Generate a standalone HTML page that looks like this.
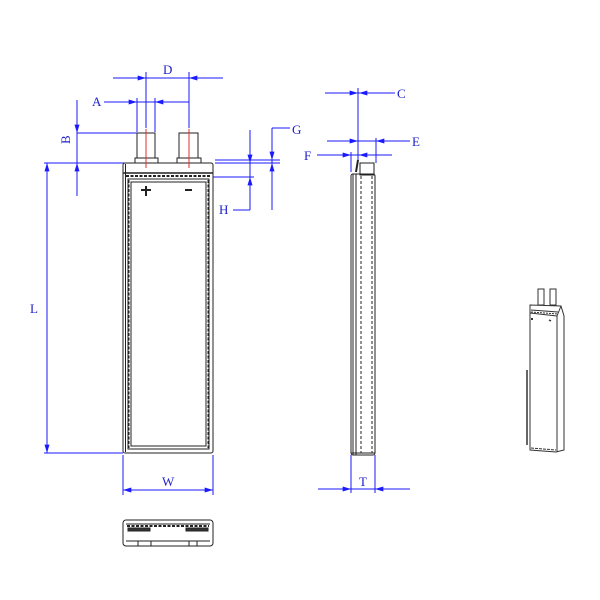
<!DOCTYPE html>
<html><head><meta charset="utf-8"><style>
html,body{margin:0;padding:0;background:#fff;width:600px;height:600px;overflow:hidden}
text{font-family:"Liberation Serif",serif;fill:#2020cc;font-size:13px}
</style></head><body>
<svg width="600" height="600" viewBox="0 0 600 600" xmlns="http://www.w3.org/2000/svg">
<defs>
<marker id="ar" viewBox="0 0 10 6" refX="10" refY="3" markerWidth="10" markerHeight="5" orient="auto-start-reverse" markerUnits="userSpaceOnUse"><path d="M0,0 L10,3 L0,6 Z" fill="#1a1aff"/></marker>
</defs>
<g stroke="#1a1aff" stroke-width="1" fill="none">
<line x1="113" y1="78" x2="223" y2="78"/>
<line x1="128" y1="78" x2="146" y2="78" marker-end="url(#ar)"/>
<line x1="207" y1="78" x2="189" y2="78" marker-end="url(#ar)"/>
<line x1="146" y1="72" x2="146" y2="128"/>
<line x1="189" y1="72" x2="189" y2="128"/>
<line x1="104" y1="102" x2="189" y2="102"/>
<line x1="120" y1="102" x2="137" y2="102" marker-end="url(#ar)"/>
<line x1="172" y1="102" x2="155" y2="102" marker-end="url(#ar)"/>
<line x1="137" y1="98" x2="137" y2="132"/>
<line x1="155" y1="98" x2="155" y2="132"/>
<line x1="77" y1="100" x2="77" y2="196"/>
<line x1="77" y1="112" x2="77" y2="133" marker-end="url(#ar)"/>
<line x1="77" y1="185" x2="77" y2="163" marker-end="url(#ar)"/>
<line x1="77" y1="133" x2="137" y2="133"/>
<line x1="44" y1="163" x2="135" y2="163"/>
<line x1="47" y1="163" x2="47" y2="453" marker-start="url(#ar)" marker-end="url(#ar)"/>
<line x1="44" y1="453" x2="123" y2="453"/>
<line x1="123" y1="455" x2="123" y2="495"/>
<line x1="213" y1="455" x2="213" y2="495"/>
<line x1="123" y1="490" x2="213" y2="490" marker-start="url(#ar)" marker-end="url(#ar)"/>
<line x1="215" y1="160" x2="280" y2="160"/>
<line x1="215" y1="163" x2="280" y2="163"/>
<line x1="213" y1="177" x2="254" y2="177"/>
<line x1="272" y1="128" x2="290" y2="128"/>
<line x1="272" y1="128" x2="272" y2="210"/>
<line x1="272" y1="142" x2="272" y2="160" marker-end="url(#ar)"/>
<line x1="272" y1="180" x2="272" y2="163" marker-end="url(#ar)"/>
<line x1="250" y1="130" x2="250" y2="210"/>
<line x1="250" y1="145" x2="250" y2="163" marker-end="url(#ar)"/>
<line x1="250" y1="195" x2="250" y2="177" marker-end="url(#ar)"/>
<line x1="233" y1="210" x2="250" y2="210"/>
<line x1="325" y1="93" x2="395" y2="93"/>
<line x1="340" y1="93" x2="358" y2="93" marker-end="url(#ar)"/>
<line x1="376" y1="93" x2="359" y2="93" marker-end="url(#ar)"/>
<line x1="327" y1="141" x2="410" y2="141"/>
<line x1="343" y1="141" x2="358" y2="141" marker-end="url(#ar)"/>
<line x1="393" y1="141" x2="376" y2="141" marker-end="url(#ar)"/>
<line x1="376" y1="138" x2="376" y2="163"/>
<line x1="317" y1="155" x2="392" y2="155"/>
<line x1="333" y1="155" x2="351" y2="155" marker-end="url(#ar)"/>
<line x1="375" y1="155" x2="359" y2="155" marker-end="url(#ar)"/>
<line x1="351" y1="152" x2="351" y2="172"/>
<line x1="351" y1="455" x2="351" y2="493"/>
<line x1="375" y1="455" x2="375" y2="493"/>
<line x1="318" y1="489" x2="410" y2="489"/>
<line x1="333" y1="489" x2="351" y2="489" marker-end="url(#ar)"/>
<line x1="393" y1="489" x2="375" y2="489" marker-end="url(#ar)"/>
</g>
<text x="163" y="74">D</text>
<text x="92" y="106">A</text>
<text x="70" y="152" transform="rotate(-90 66 148)">B</text>
<text x="30" y="313">L</text>
<text x="162" y="486">W</text>
<text x="292" y="134">G</text>
<text x="219" y="214">H</text>
<text x="397" y="98">C</text>
<text x="412" y="146">E</text>
<text x="304" y="160">F</text>
<text x="359" y="486">T</text>

<g stroke="#222" fill="none" stroke-width="1">
<rect x="137" y="133" width="18" height="25"/>
<rect x="179" y="133" width="19" height="25"/>
<rect x="135" y="158" width="23" height="5"/>
<rect x="177" y="158" width="24" height="5"/>
<rect x="123" y="163" width="90" height="290" rx="2"/>
<line x1="125.5" y1="164" x2="125.5" y2="452"/>
<line x1="123" y1="173" x2="213" y2="173" stroke-width="1.5"/>
<line x1="126" y1="176" x2="211" y2="176" stroke-dasharray="3,1.5" stroke-width="2"/>
<rect x="128" y="179" width="81" height="270"/>
<rect x="131" y="182" width="75" height="264"/>
<line x1="129" y1="180" x2="129" y2="448" stroke-dasharray="3,1.5"/>
<line x1="208" y1="180" x2="208" y2="448" stroke-dasharray="3,1.5"/>
<path d="M146,186 v10 M141,190 h10 M185,190 h7" stroke-width="2"/>
</g>
<g stroke="#e03030" stroke-width="1">
<line x1="146" y1="129" x2="146" y2="168"/>
<line x1="189" y1="129" x2="189" y2="168"/>
</g>

<g stroke="#222" fill="none" stroke-width="1">
<line x1="358" y1="88" x2="358" y2="160" stroke="#1a1aff"/>
<path d="M358,160 L356,172" stroke-width="2"/>
<rect x="351" y="174" width="24" height="281" rx="2"/>
<line x1="353" y1="174" x2="353" y2="455"/>
<line x1="356" y1="174" x2="356" y2="455"/>
<rect x="360" y="163" width="14" height="12"/>
<line x1="361" y1="176" x2="361" y2="453" stroke-dasharray="3,2"/>
<line x1="372" y1="176" x2="372" y2="453" stroke-dasharray="3,2"/>
<line x1="351" y1="453" x2="375" y2="453"/>
</g>

<g stroke="#222" fill="none" stroke-width="1">
<rect x="123" y="520" width="90" height="26" rx="3"/>
<line x1="126" y1="524" x2="210" y2="524"/>
<line x1="127" y1="526" x2="209" y2="526" stroke-dasharray="3,1.5" stroke-width="2"/>
<rect x="128" y="528" width="22" height="3" fill="#333"/>
<rect x="186" y="528" width="22" height="3" fill="#333"/>
<line x1="126" y1="541" x2="210" y2="541"/>
<rect x="138" y="541" width="13" height="5"/>
<rect x="189" y="541" width="8" height="5"/>
</g>

<g stroke="#333" fill="none" stroke-width="1">
<rect x="538" y="289" width="6" height="16"/>
<rect x="550" y="289" width="6" height="16"/>
<path d="M530,305 L561,306 L564,316 L564,450 L556,452 L530,450 Z"/>
<line x1="557" y1="316" x2="557" y2="452"/>
<line x1="530" y1="313" x2="557" y2="316"/>
<line x1="531" y1="310" x2="558" y2="312"/>
<line x1="531" y1="312" x2="558" y2="314" stroke-dasharray="2,1"/>
<line x1="561" y1="306" x2="557" y2="316"/>
<line x1="527" y1="370" x2="527" y2="445" stroke-width="1.5"/>
<line x1="532" y1="318" x2="532" y2="320" stroke-width="2"/>
<line x1="549" y1="320" x2="551" y2="321" stroke-width="1.5"/>
<path d="M531,448 L556,450" stroke-dasharray="3,1"/>
</g>
</svg>
</body></html>
